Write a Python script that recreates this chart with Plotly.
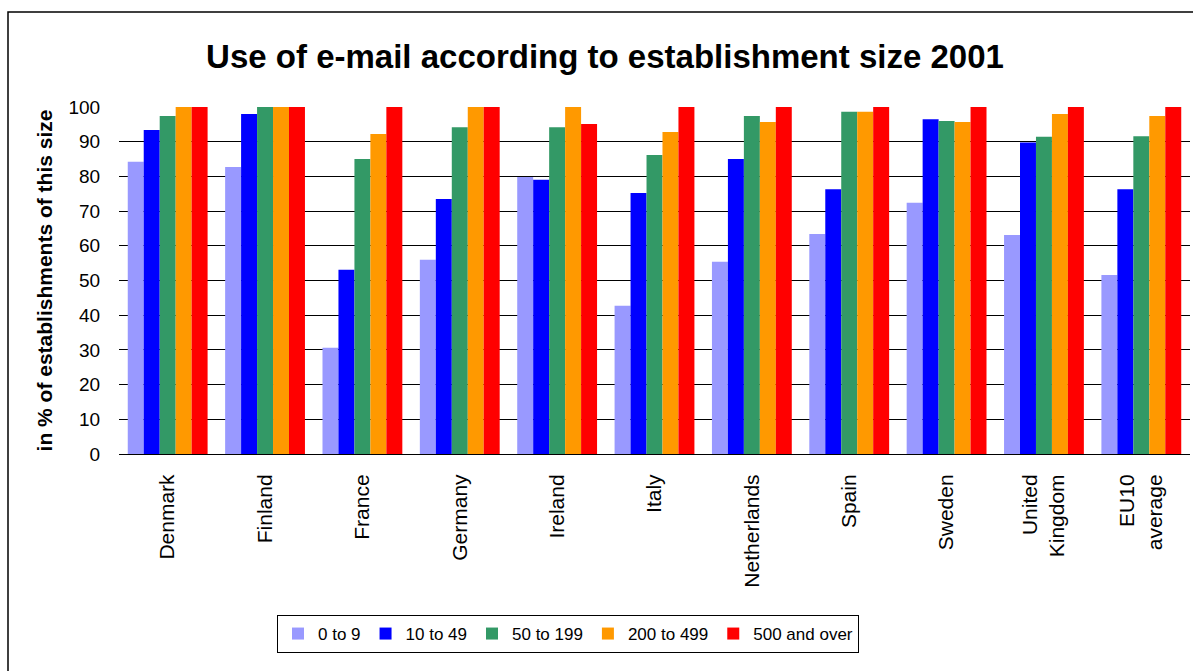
import plotly.graph_objects as go

# Countries on the category axis
countries = ["Denmark", "Finland", "France", "Germany", "Ireland", "Italy",
             "Netherlands", "Spain", "Sweden", "United<br>Kingdom", "EU10<br>average"]

# Share of establishments using e-mail (%), by size class
size_0_9 = [84.2, 82.7, 30.6, 56.0, 79.8, 42.7, 55.4, 63.4, 72.4, 63.1, 51.6]
size_10_49 = [93.4, 98.0, 53.1, 73.5, 79.0, 75.2, 85.0, 76.3, 96.5, 89.8, 76.3]
size_50_199 = [97.4, 100, 85.0, 94.2, 94.2, 86.2, 97.4, 98.6, 96.0, 91.4, 91.6]
size_200_499 = [100, 100, 92.2, 100, 100, 92.8, 95.7, 98.6, 95.7, 98.0, 97.4]
size_500_over = [100, 100, 100, 100, 95.1, 100, 100, 100, 100, 100, 100]

series_names = ["0 to 9", "10 to 49", "50 to 199", "200 to 499", "500 and over"]
series_values = [size_0_9, size_10_49, size_50_199, size_200_499, size_500_over]
series_colors = ["#9999FF", "#0000FF", "#339966", "#FF9900", "#FF0000"]

fig = go.Figure()
for name, vals, col in zip(series_names, series_values, series_colors):
    fig.add_trace(go.Bar(x=countries, y=vals, name=name,
                         marker=dict(color=col, line=dict(width=0))))

W, H = 1193, 671
L, R, T, B = 119, 3, 107, 217
pw, ph = W - L - R, H - T - B

def px_x(x):
    return (x - L) / pw

def px_y(y):
    return (H - B - y) / ph

font = "Liberation Sans, Arial, sans-serif"

fig.update_layout(
    width=W, height=H,
    margin=dict(l=L, r=R, t=T, b=B),
    paper_bgcolor="white", plot_bgcolor="white",
    barmode="group", bargap=0.18, bargroupgap=0,
    font=dict(family=font, color="black", size=18),
    title=dict(text="<b>Use of e-mail according to establishment size 2001</b>",
               x=px_x(605), xref="paper", xanchor="center",
               y=1 - 56 / H, yanchor="middle",
               font=dict(size=33, family=font, color="black")),
    xaxis=dict(showgrid=False, showline=True, linecolor="black", linewidth=1,
               tickangle=-90, ticks="outside", ticklen=11,
               tickcolor="rgba(0,0,0,0)", tickfont=dict(size=21)),
    yaxis=dict(range=[0, 100], dtick=10, showgrid=True, gridcolor="black",
               gridwidth=1, zeroline=False, showline=False,
               ticks="outside", ticklen=14, tickcolor="rgba(0,0,0,0)",
               tickfont=dict(size=19),
               title=dict(text="<b>in % of establishments of this size</b>",
                          font=dict(size=21), standoff=10)),
    legend=dict(orientation="h", x=px_x(568), xanchor="center",
                y=px_y(615), yanchor="top",
                bordercolor="black", borderwidth=1,
                font=dict(size=17), traceorder="normal",
                itemwidth=30, entrywidth=0),
    shapes=[dict(type="rect", xref="paper", yref="paper",
                 x0=px_x(8), x1=px_x(1210), y0=px_y(690), y1=px_y(12),
                 line=dict(color="black", width=1.5), layer="below")],
)

fig.write_html("out.html")
